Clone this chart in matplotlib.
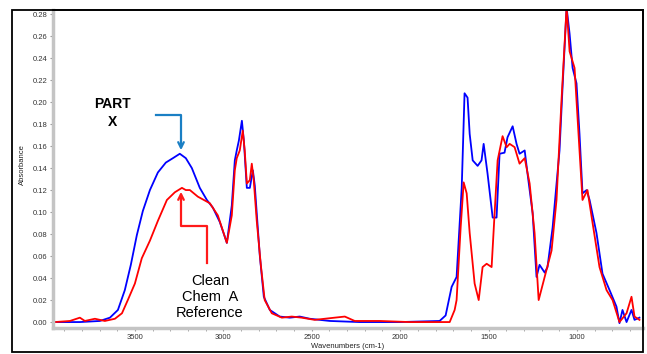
import matplotlib

matplotlib.use("Agg")
import matplotlib.pyplot as plt
from matplotlib.patches import Rectangle
from matplotlib.ticker import MultipleLocator

# spectra (wavenumber cm-1, absorbance)
part_x_wn = [3952, 3811, 3698, 3641, 3596, 3557, 3523, 3489, 3455, 3415, 3370, 3325,
             3285, 3246, 3212, 3178, 3133, 3093, 3059, 3020, 2980, 2952, 2935, 2924,
             2912, 2895, 2884, 2867, 2850, 2833, 2822, 2811, 2794, 2771, 2737, 2681,
             2624, 2568, 2511, 2398, 2229, 2003, 1777, 1743, 1709, 1681, 1652, 1636,
             1619, 1607, 1590, 1562, 1540, 1528, 1506, 1477, 1455, 1438, 1410, 1393,
             1364, 1342, 1325, 1296, 1280, 1251, 1229, 1212, 1183, 1167, 1138, 1099,
             1082, 1059, 1042, 1025, 1003, 986, 969, 946, 929, 890, 856, 816, 777,
             760, 743, 720, 692, 675, 647]
part_x_abs = [0.000, 0.000, 0.001, 0.004, 0.011, 0.029, 0.052, 0.079, 0.101, 0.120,
              0.136, 0.145, 0.149, 0.153, 0.149, 0.140, 0.122, 0.111, 0.104, 0.091,
              0.072, 0.106, 0.147, 0.156, 0.165, 0.183, 0.165, 0.122, 0.122, 0.138,
              0.124, 0.099, 0.061, 0.023, 0.011, 0.005, 0.004, 0.005, 0.003, 0.001,
              0.000, 0.000, 0.001, 0.006, 0.032, 0.041, 0.122, 0.208, 0.204, 0.171,
              0.147, 0.142, 0.147, 0.162, 0.135, 0.095, 0.095, 0.153, 0.154, 0.168,
              0.178, 0.162, 0.153, 0.156, 0.135, 0.099, 0.041, 0.052, 0.045, 0.050,
              0.086, 0.156, 0.213, 0.286, 0.262, 0.231, 0.217, 0.171, 0.117, 0.120,
              0.111, 0.081, 0.044, 0.029, 0.014, -0.001, 0.011, 0.000, 0.011, 0.002,
              0.004]

ref_wn = [3952, 3867, 3811, 3783, 3726, 3670, 3613, 3573, 3540, 3500, 3461, 3415,
          3370, 3319, 3274, 3234, 3212, 3189, 3144, 3076, 3031, 2980, 2952, 2935,
          2924, 2907, 2890, 2879, 2867, 2850, 2839, 2828, 2811, 2788, 2766, 2726,
          2669, 2613, 2557, 2483, 2370, 2313, 2257, 2116, 1946, 1777, 1720, 1692,
          1681, 1658, 1641, 1624, 1607, 1579, 1556, 1534, 1511, 1483, 1466, 1449,
          1421, 1398, 1381, 1353, 1325, 1296, 1268, 1240, 1217, 1183, 1144, 1116,
          1088, 1059, 1042, 1014, 986, 969, 941, 912, 873, 833, 799, 760, 720, 692,
          675, 647]
ref_abs = [0.000, 0.001, 0.004, 0.001, 0.003, 0.001, 0.003, 0.008, 0.020, 0.035,
           0.058, 0.074, 0.092, 0.111, 0.118, 0.122, 0.120, 0.120, 0.114, 0.108,
           0.097, 0.072, 0.097, 0.138, 0.149, 0.156, 0.174, 0.156, 0.126, 0.129,
           0.144, 0.129, 0.092, 0.052, 0.020, 0.008, 0.004, 0.005, 0.004, 0.002,
           0.004, 0.005, 0.001, 0.001, 0.000, 0.000, 0.000, 0.011, 0.020, 0.086,
           0.127, 0.117, 0.081, 0.035, 0.020, 0.050, 0.053, 0.050, 0.099, 0.147,
           0.169, 0.159, 0.162, 0.159, 0.144, 0.149, 0.126, 0.081, 0.020, 0.041,
           0.065, 0.111, 0.201, 0.286, 0.246, 0.231, 0.156, 0.111, 0.120, 0.090,
           0.050, 0.029, 0.020, 0.000, 0.008, 0.023, 0.005, 0.002]

W, H = 647, 354
fig = plt.figure(figsize=(W / 100, H / 100), dpi=100)
plt.rcParams["font.family"] = ["Liberation Sans", "DejaVu Sans"]

# outer black frame
fig.patches.append(Rectangle((12 / W, 2 / H), 631 / W, 342 / H, transform=fig.transFigure,
                             fill=False, edgecolor="black", linewidth=1.3))

ax = fig.add_axes([53 / W, 26 / H, 590 / W, 318 / H])
ax.plot(part_x_wn, part_x_abs, color="#0000ff", lw=1.3)
ax.plot(ref_wn, ref_abs, color="#ff0000", lw=1.3)

ax.set_xlim(3963, 627)
ax.set_ylim(-0.0054, 0.2837)
ax.xaxis.set_major_locator(MultipleLocator(500))
ax.xaxis.set_minor_locator(MultipleLocator(100))
ax.yaxis.set_major_locator(MultipleLocator(0.02))
ax.yaxis.set_major_formatter(plt.FormatStrFormatter("%.2f"))
ax.set_xticks([3500, 3000, 2500, 2000, 1500, 1000])
ax.tick_params(axis="both", labelsize=5.5, colors="#9a9a9a", labelcolor="#333333",
               length=2.5, width=0.8, pad=1.5)
ax.tick_params(which="minor", axis="x", length=2, colors="#9a9a9a")

for side in ("left", "bottom"):
    ax.spines[side].set_color("#c4c4c4")
    ax.spines[side].set_linewidth(2.5)
for side in ("top", "right"):
    ax.spines[side].set_color("black")
    ax.spines[side].set_linewidth(1.2)

fig.text(22 / W, 1 - 165 / H, "Absorbance", rotation=90, fontsize=5.5,
         ha="center", va="center", color="#222222")
fig.text(348 / W, 1 - 346 / H, "Wavenumbers (cm-1)", fontsize=5.5,
         ha="center", va="center", color="#222222")

# annotation arrows (drawn in figure pixel space)
def px(x, y):
    return (x / W, 1 - y / H)


blue_c = "#1a7fc4"
fig.add_artist(plt.Line2D([156 / W, 181 / W, 181 / W], [1 - 115 / H, 1 - 115 / H, 1 - 140 / H],
                          color=blue_c, lw=1.6, transform=fig.transFigure))
ax.annotate("", xy=px(181, 153), xycoords="figure fraction", xytext=px(181, 138),
            textcoords="figure fraction",
            arrowprops=dict(arrowstyle="->", color=blue_c, lw=1.6, mutation_scale=10))

red_c = "#ff1a1a"
fig.add_artist(plt.Line2D([207 / W, 207 / W, 181 / W, 181 / W],
                          [1 - 263 / H, 1 - 226 / H, 1 - 226 / H, 1 - 200 / H],
                          color=red_c, lw=1.6, transform=fig.transFigure))
ax.annotate("", xy=px(181, 189), xycoords="figure fraction", xytext=px(181, 203),
            textcoords="figure fraction",
            arrowprops=dict(arrowstyle="->", color=red_c, lw=1.6, mutation_scale=10))

fig.text(112 / W, 1 - 113 / H, "PART\nX", fontsize=10, fontweight="bold",
         ha="center", va="center", linespacing=1.3)
fig.text(210 / W, 1 - 297 / H, "Clean\nChem  A\nReference", fontsize=10.5,
         ha="center", va="center", linespacing=1.15)

fig.savefig("out.png", dpi=100)
